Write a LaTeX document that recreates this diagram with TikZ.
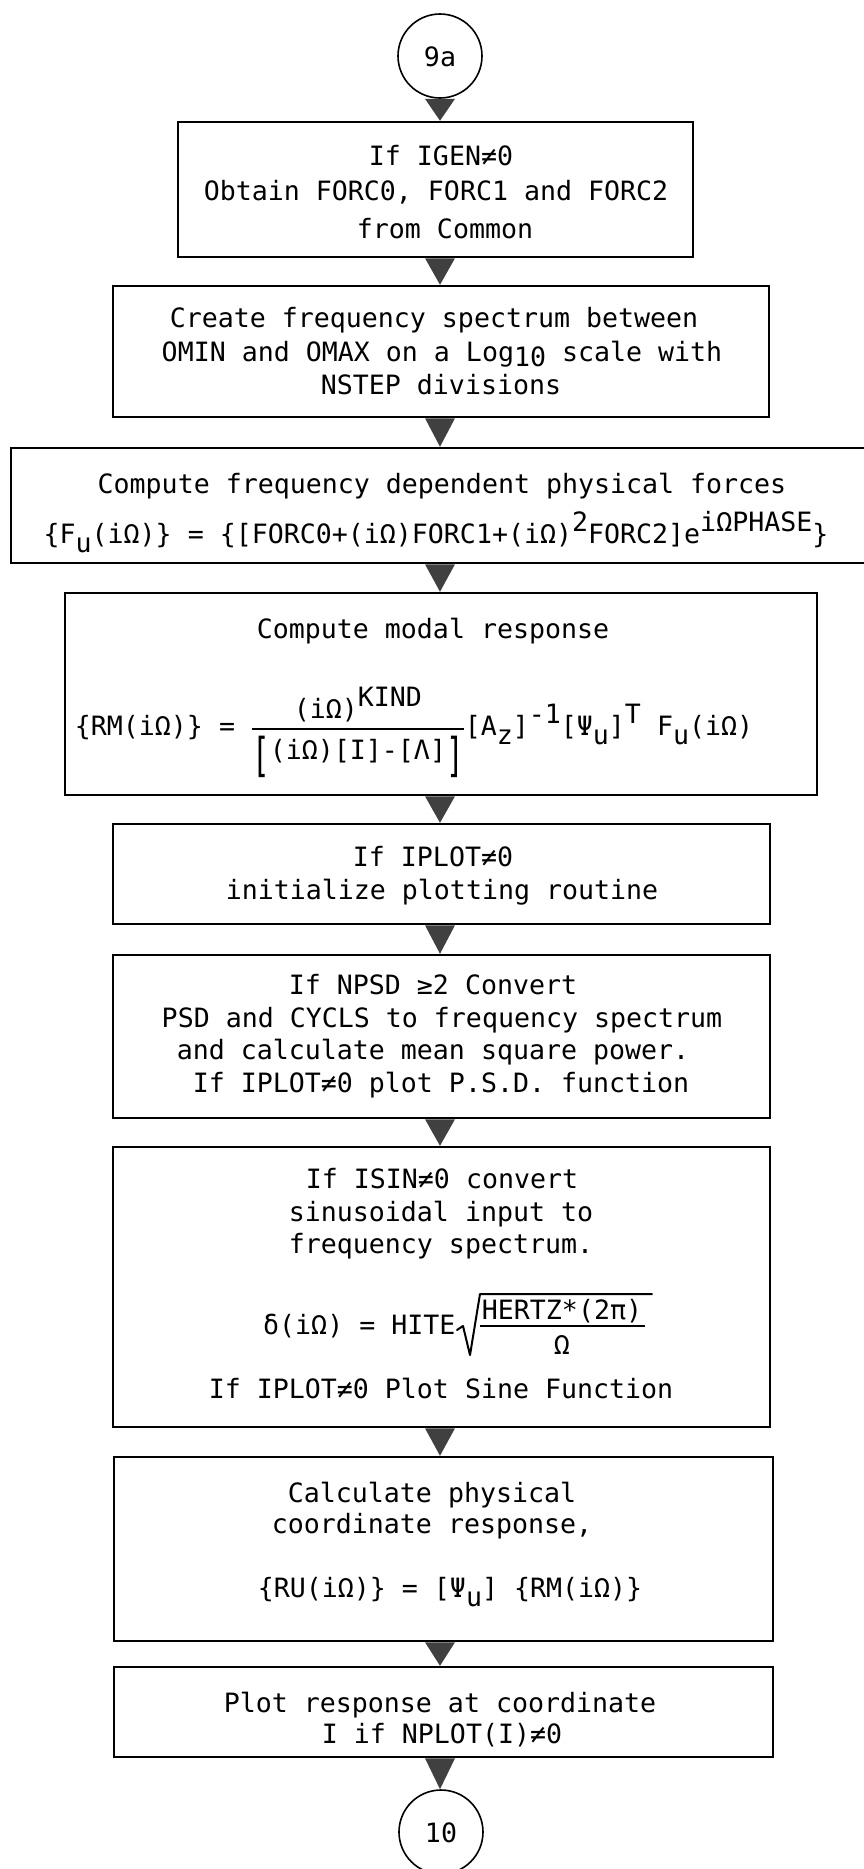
\documentclass[tikz,border=0pt]{standalone}
\usepackage{amsmath}
\usepackage{graphicx}
\usepackage{fontspec}
\setmainfont{DejaVu Sans Mono}
\usetikzlibrary{calc}
\newcommand\upx[1]{\raisebox{0.45em}{#1}}
\newcommand\dnx[1]{\raisebox{-0.35em}{#1}}
\newcommand\dnlog[1]{\raisebox{-0.2em}{#1}}
\newcommand\bigbl{\raisebox{-0.42em}{\scalebox{1.1}[1.75]{[}}}
\newcommand\bigbr{\raisebox{-0.42em}{\scalebox{1.1}[1.75]{]}}}
\begin{document}
\begin{tikzpicture}[x=1pt,y=-1pt,
  box/.style={draw, line width=2.5pt, rectangle, inner sep=0pt},
  conn/.style={fill=black!75},
  tx/.style={anchor=base, inner sep=0pt, font=\fontsize{26.6}{32}\selectfont},
  circ/.style={draw, circle, line width=1.6pt, minimum size=84pt, inner sep=0pt},
  mline/.style={line width=2pt, line cap=round, line join=round}]
\useasboundingbox[fill=white] (0,0) rectangle (863,1869);
\coordinate (ax) at (440,0);
\newcommand\conn[2]{\fill[conn] ($(ax |- #1.south)+(-15,0)$) -- ($(ax |- #1.south)+(15,0)$) -- (ax |- #2.north) -- cycle;}

% nodes
\node[circ] (c1) at (440,56) {};
\node[tx] (c1t) at (440,66) {9a};
\node[box, minimum width=515pt, minimum height=135pt] (b1) at (435.5,189.5) {};
\node[box, minimum width=656pt, minimum height=131pt] (b2) at (441,351.5) {};
\node[box, minimum width=859pt, minimum height=115pt] (b3) at (440.5,505.5) {};
\node[box, minimum width=752pt, minimum height=202pt] (b4) at (441,694) {};
\node[box, minimum width=657pt, minimum height=100pt] (b5) at (441.5,874) {};
\node[box, minimum width=657pt, minimum height=163pt] (b6) at (441.5,1036.5) {};
\node[box, minimum width=657pt, minimum height=280pt] (b7) at (441.5,1287) {};
\node[box, minimum width=659pt, minimum height=184pt] (b8) at (443.5,1549) {};
\node[box, minimum width=659pt, minimum height=90pt] (b9) at (443.5,1712) {};
\node[circ] (c10) at (441,1832) {};
\node[tx] (c10t) at (441,1842) {10};

% texts
\node[tx] (t1a) at (441,165) {If IGEN≠0};
\node[tx] (t1b) at (436,200) {Obtain FORC0, FORC1 and FORC2};
\node[tx] (t1c) at (445,238) {from Common};

\node[tx] (t2a) at (434,327) {Create frequency spectrum between};
\node[tx] (t2b) at (442,361) {OMIN and OMAX on a Log\dnlog{10} scale with};
\node[tx] (t2c) at (441,394) {NSTEP divisions};

\node[tx] (t3a) at (442,493) {Compute frequency dependent physical forces};
\node[tx] (t3b) at (436,543) {\{F\dnx{u}(iΩ)\} = \{[FORC0+(iΩ)FORC1+(iΩ)\upx{2}FORC2]e\upx{iΩPHASE}\}};

\node[tx] (t4a) at (433,638) {Compute modal response};
\node[tx] (t4b) at (414,735) {\{RM(iΩ)\} = $\genfrac{}{}{2pt}{0}{\mbox{(iΩ)\upx{KIND}}}{\mbox{\bigbl(iΩ)[I]-[Λ]\bigbr}}$[A\dnx{z}]\upx{-1}[Ψ\dnx{u}]\upx{T} F\dnx{u}(iΩ)};

\node[tx] (t5a) at (433,866) {If IPLOT≠0};
\node[tx] (t5b) at (442,899) {initialize plotting routine};

\node[tx] (t6a) at (433,994) {If NPSD ≥2 Convert};
\node[tx] (t6b) at (442,1027) {PSD and CYCLS to frequency spectrum};
\node[tx] (t6c) at (433,1059) {and calculate mean square power.};
\node[tx] (t6d) at (441,1092) {If IPLOT≠0 plot P.S.D. function};

\node[tx] (t7a) at (442,1188) {If ISIN≠0 convert};
\node[tx] (t7b) at (441,1221) {sinusoidal input to};
\node[tx] (t7c) at (441,1253) {frequency spectrum.};
\node[tx, anchor=base west] (t7d) at (263,1334) {δ(iΩ) = HITE};
\node[tx] (t7n) at (562,1319) {HERTZ*(2π)};
\node[tx] (t7m) at (562,1354) {Ω};
\draw[mline] (457,1330) -- (463,1326) -- (470,1355) -- (480,1294) -- (652,1294);
\draw[line width=2pt] (480,1326) -- (645,1326);
\node[tx] (t7e) at (441,1398) {If IPLOT≠0 Plot Sine Function};

\node[tx] (t8a) at (432,1502) {Calculate physical};
\node[tx] (t8b) at (432,1533) {coordinate response,};
\node[tx] (t8c) at (450,1597) {\{RU(iΩ)\} = [Ψ\dnx{u}] \{RM(iΩ)\}};

\node[tx] (t9a) at (440,1712) {Plot response at coordinate};
\node[tx] (t9b) at (442,1743) {I if NPLOT(I)≠0};

% connectors
\conn{c1}{b1}
\conn{b1}{b2}
\conn{b2}{b3}
\conn{b3}{b4}
\conn{b4}{b5}
\conn{b5}{b6}
\conn{b6}{b7}
\conn{b7}{b8}
\conn{b8}{b9}
\conn{b9}{c10}
\end{tikzpicture}
\end{document}
